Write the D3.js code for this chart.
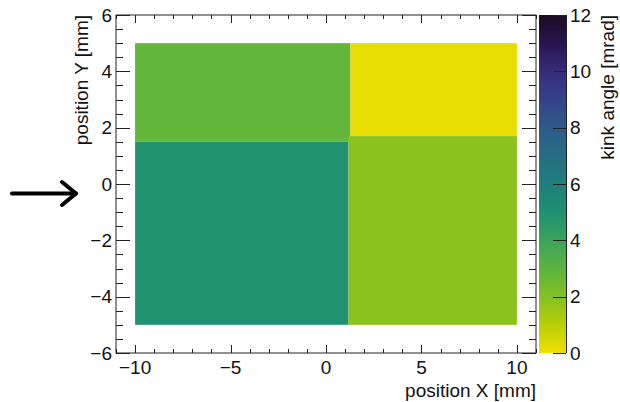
<!DOCTYPE html>
<html>
<head>
<meta charset="utf-8">
<script src="https://cdn.jsdelivr.net/npm/d3@7"></script>
<style>
  body { margin: 0; background: #fff; }
  text { font-family: "Liberation Sans", Arial, Helvetica, sans-serif; }
</style>
</head>
<body>
<svg id="chart" width="620" height="402"></svg>
<script>
// ---- data ----
const regionNames = ["top-left", "bottom-left", "top-right", "bottom-right"];
const regionX0 = [-10, -10, 1.28, 1.18];
const regionX1 = [1.28, 1.18, 10, 10];
const regionY0 = [1.5, -5, 1.7, -5];
const regionY1 = [5, 1.5, 5, 1.7];
const kinkAngle = [2.85, 4.9, 0.15, 1.85];   // mrad

const xTicksMajor = [-10, -5, 0, 5, 10];
const yTicksMajor = [-6, -4, -2, 0, 2, 4, 6];
const zTicks = [0, 2, 4, 6, 8, 10, 12];
const paletteValues = [0, 1, 2, 3, 4, 5, 6, 7, 8, 9, 10, 11, 12];
const paletteColors = ["#f0e000", "#b8cf08", "#84c020", "#5cb43e", "#3aa45a", "#1f9172",
                       "#1f7f7c", "#276e84", "#2e5a88", "#35428a", "#372c7a", "#2a1450", "#1c0c22"];

// ---- layout ----
const svg = d3.select("#chart");
const L = 116, R = 536, T = 15, B = 353;
const cbL = 539, cbR = 566;
const FS = 19;

const x = d3.scaleLinear().domain([-11, 11]).range([L, R]);
const y = d3.scaleLinear().domain([-6, 6]).range([B, T]);
const z = d3.scaleLinear().domain([0, 12]).range([B, T]);
const color = d3.scaleLinear().domain(paletteValues).range(paletteColors).clamp(true);
const fmt = d3.format("");

svg.append("rect").attr("width", 620).attr("height", 402).attr("fill", "#fff");

// heat map regions
svg.append("g").selectAll("rect").data(kinkAngle).join("rect")
  .attr("x", (d, i) => x(regionX0[i]))
  .attr("y", (d, i) => y(regionY1[i]))
  .attr("width", (d, i) => x(regionX1[i]) - x(regionX0[i]))
  .attr("height", (d, i) => y(regionY0[i]) - y(regionY1[i]))
  .attr("fill", d => color(d));

// frame
svg.append("rect").attr("x", L).attr("y", T).attr("width", R - L).attr("height", B - T)
  .attr("fill", "none").attr("stroke", "#222").attr("stroke-width", 1);

const tickCol = "#222";
// x ticks (bottom & top, inward)
const xMinor = d3.range(-11, 11.01, 1);
const gx = svg.append("g").attr("stroke", tickCol).attr("stroke-width", 1);
xMinor.forEach(v => {
  const major = xTicksMajor.includes(v);
  const len = major ? 8 : 4;
  const px = Math.round(x(v)) + 0.5;
  gx.append("line").attr("x1", px).attr("x2", px).attr("y1", B).attr("y2", B - len);
  gx.append("line").attr("x1", px).attr("x2", px).attr("y1", T).attr("y2", T + len);
});
svg.append("g").selectAll("text").data(xTicksMajor).join("text")
  .attr("x", d => x(d)).attr("y", 374).attr("text-anchor", "middle")
  .attr("font-size", FS).attr("fill", "#111").text(d => fmt(d));

// y ticks (left & right, inward)
const yMinor = d3.range(-6, 6.01, 0.5);
const gy = svg.append("g").attr("stroke", tickCol).attr("stroke-width", 1);
yMinor.forEach(v => {
  const major = yTicksMajor.includes(v);
  const len = major ? 14 : 7;
  const py = Math.round(y(v)) + 0.5;
  gy.append("line").attr("x1", L).attr("x2", L + len).attr("y1", py).attr("y2", py);
  gy.append("line").attr("x1", R).attr("x2", R - len).attr("y1", py).attr("y2", py);
});
svg.append("g").selectAll("text").data(yTicksMajor).join("text")
  .attr("x", 112).attr("y", d => y(d) + 6.8).attr("text-anchor", "end")
  .attr("font-size", FS).attr("fill", "#111").text(d => fmt(d));

// axis titles
svg.append("text").attr("x", R).attr("y", 397).attr("text-anchor", "end")
  .attr("font-size", FS).attr("fill", "#111").text("position X [mm]");
svg.append("text").attr("transform", `translate(88,${T}) rotate(-90)`)
  .attr("text-anchor", "end").attr("font-size", FS).attr("fill", "#111").text("position Y [mm]");

// colour bar
const defs = svg.append("defs");
const grad = defs.append("linearGradient").attr("id", "cbgrad")
  .attr("x1", 0).attr("y1", 1).attr("x2", 0).attr("y2", 0);
paletteValues.forEach((v, i) => {
  grad.append("stop").attr("offset", v / 12).attr("stop-color", paletteColors[i]);
});
svg.append("rect").attr("x", cbL).attr("y", z(12)).attr("width", cbR - cbL)
  .attr("height", z(0) - z(12)).attr("fill", "url(#cbgrad)");
svg.append("line").attr("x1", cbR + 0.5).attr("x2", cbR + 0.5).attr("y1", z(12)).attr("y2", z(0))
  .attr("stroke", tickCol);
const gz = svg.append("g").attr("stroke", tickCol);
zTicks.forEach(v => {
  const py = Math.round(z(v)) + 0.5;
  gz.append("line").attr("x1", cbR).attr("x2", cbR - 13).attr("y1", py).attr("y2", py);
});
svg.append("g").selectAll("text").data(zTicks).join("text")
  .attr("x", 570).attr("y", d => z(d) + 6.8).attr("text-anchor", "start")
  .attr("font-size", FS).attr("fill", "#111").text(d => fmt(d));
svg.append("text").attr("transform", `translate(614,${T}) rotate(-90)`)
  .attr("text-anchor", "end").attr("font-size", FS).attr("fill", "#111").text("kink angle [mrad]");

// arrow annotation
const ga = svg.append("g").attr("stroke", "#000").attr("stroke-width", 4)
  .attr("stroke-linecap", "round").attr("stroke-linejoin", "round").attr("fill", "none");
ga.append("line").attr("x1", 12).attr("x2", 76).attr("y1", 193.5).attr("y2", 193.5);
ga.append("polyline").attr("points", "62,182 76,193.5 62,205");
</script>
</body>
</html>
